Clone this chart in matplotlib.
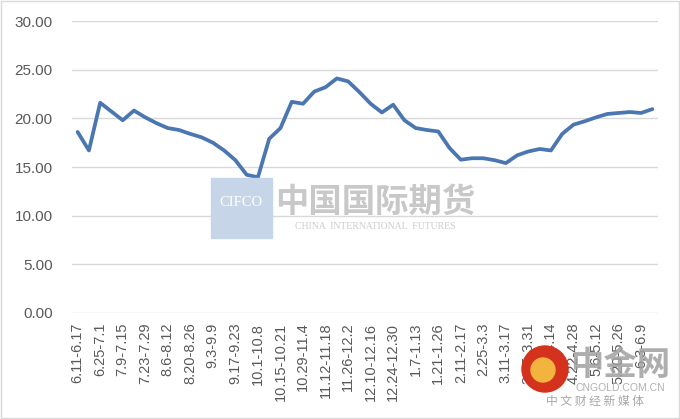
import matplotlib
matplotlib.use('Agg')
import matplotlib.pyplot as plt
from matplotlib.patches import Rectangle, Ellipse

# weekly categories (every other one is labelled on the axis)
weeks = [
    '6.11-6.17', '6.18-6.24', '6.25-7.1', '7.2-7.8', '7.9-7.15', '7.16-7.22',
    '7.23-7.29', '7.30-8.5', '8.6-8.12', '8.13-8.19', '8.20-8.26', '8.27-9.2',
    '9.3-9.9', '9.10-9.16', '9.17-9.23', '9.24-9.30', '10.1-10.8', '10.9-10.14',
    '10.15-10.21', '10.22-10.28', '10.29-11.4', '11.5-11.11', '11.12-11.18',
    '11.19-11.25', '11.26-12.2', '12.3-12.9', '12.10-12.16', '12.17-12.23',
    '12.24-12.30', '12.31-1.6', '1.7-1.13', '1.14-1.20', '1.21-1.26', '1.27-2.10',
    '2.11-2.17', '2.18-2.24', '2.25-3.3', '3.4-3.10', '3.11-3.17', '3.18-3.24',
    '3.25-3.31', '4.1-4.7', '4.8-4.14', '4.15-4.21', '4.22-4.28', '4.29-5.5',
    '5.6-5.12', '5.13-5.19', '5.20-5.26', '5.27-6.2', '6.3-6.9', '6.10-6.16',
]
values = [
    18.6, 16.7, 21.6, 20.7, 19.8, 20.8, 20.1, 19.5, 19.0, 18.8,
    18.4, 18.05, 17.5, 16.7, 15.7, 14.2, 13.95, 17.9, 19.0, 21.7,
    21.5, 22.75, 23.2, 24.1, 23.8, 22.7, 21.5, 20.6, 21.4, 19.8,
    19.0, 18.8, 18.65, 16.95, 15.75, 15.9, 15.9, 15.7, 15.4, 16.2,
    16.6, 16.85, 16.7, 18.4, 19.35, 19.7, 20.1, 20.45, 20.55, 20.65,
    20.55, 20.95,
]
y_ticks = [0, 5, 10, 15, 20, 25, 30]

plt.rcParams['font.family'] = ['Liberation Sans', 'Noto Sans CJK SC', 'DejaVu Sans']

W, H = 680, 419
fig = plt.figure(figsize=(W / 100, H / 100), dpi=100)
ax = fig.add_axes([72 / W, 1 - 313 / H, 586 / W, 292 / H])

x = list(range(len(weeks)))
ax.plot(x, values, color='#4a76b2', linewidth=2.7, solid_joinstyle='round',
        solid_capstyle='round', zorder=3)

ax.set_xlim(-0.5, len(weeks) - 0.5)
ax.set_ylim(0, 30)
ax.set_yticks(y_ticks)
ax.set_yticklabels([f'{v:.2f}' for v in y_ticks], fontsize=11, color='#595959')
ax.set_xticks(x[::2])
ax.set_xticklabels(weeks[::2], rotation=90, fontsize=10.5, color='#595959')
ax.tick_params(axis='y', length=0, pad=14)
ax.tick_params(axis='x', length=0, pad=7)
ax.grid(axis='y', color='#d9d9d9', linewidth=1)
ax.set_axisbelow(True)
for s in ax.spines.values():
    s.set_visible(False)


def fx(px):
    return px / W


def fy(py):
    return 1 - py / H


# CIFCO watermark
fig.patches.append(Rectangle((fx(211), fy(238)), 61 / W, 60 / H,
                             transform=fig.transFigure, color='#c6d5e8', zorder=1))
fig.text(fx(241), fy(203), 'CIFCO', color='white', fontsize=10.5,
         family='Liberation Serif', ha='center', va='center', zorder=2)
fig.text(fx(375), fy(202), '中国国际期货', color='#c8c8c8', fontsize=24,
         family=['Noto Sans CJK SC'], weight='bold', ha='center', va='center', zorder=2)
fig.text(fx(375), fy(226), 'CHINA  INTERNATIONAL  FUTURES', color='#cccccc',
         fontsize=7, family='Liberation Serif', ha='center', va='center', zorder=2)

# cngold watermark
fig.patches.append(Ellipse((fx(545), fy(369)), 46 / W, 46 / H, transform=fig.transFigure,
                           color='#d4321c', zorder=4))
fig.patches.append(Ellipse((fx(543), fy(370)), 24 / W, 24 / H, transform=fig.transFigure,
                           color='#f3b43f', zorder=5))
fig.text(fx(620), fy(365), '中金网', color='#a0a0a0', fontsize=24, alpha=0.85,
         family=['Noto Sans CJK SC'], weight='bold', ha='center', va='center', zorder=4)
fig.text(fx(620), fy(388), 'CNGOLD.COM.CN', color='#b0b0b0', fontsize=7.5,
         ha='center', va='center', zorder=4)
fig.text(fx(595), fy(401), '中 文 财 经 新 媒 体', color='#a8a8a8', fontsize=8.5,
         family=['Noto Sans CJK SC'], ha='center', va='center', zorder=4)

fig.patches.append(Rectangle((0.002, 0.002), 0.996, 0.996, transform=fig.transFigure,
                             fill=False, edgecolor='#d9d9d9', linewidth=1))

fig.savefig('out.png', dpi=100)
